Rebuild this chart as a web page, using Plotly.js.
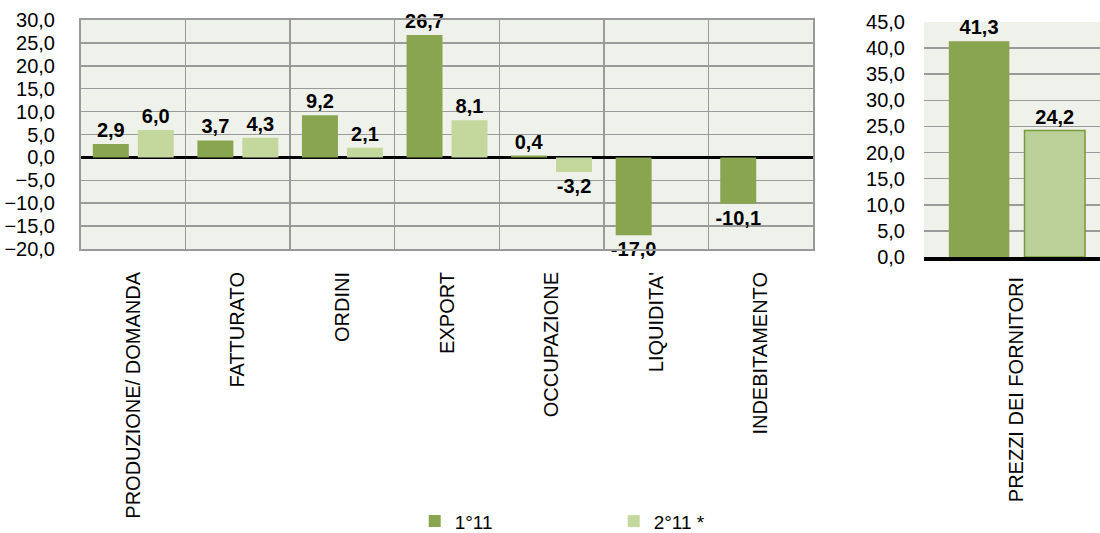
<!DOCTYPE html>
<html>
<head>
<meta charset="utf-8">
<script src="https://cdn.plot.ly/plotly-3.0.1.min.js"></script>
<style>
html,body{margin:0;padding:0;background:#fff;}
#chart{width:1100px;height:533px;}
</style>
</head>
<body>
<div id="chart"></div>
<script>
// ---- data ----
var categories = ["PRODUZIONE/ DOMANDA", "FATTURATO", "ORDINI", "EXPORT", "OCCUPAZIONE", "LIQUIDITA'", "INDEBITAMENTO"];
var series1Name = "1°11";
var series2Name = "2°11 *";
var series1 = [2.9, 3.7, 9.2, 26.7, 0.4, -17.0, -10.1];
var series2 = [6.0, 4.3, 2.1, 8.1, -3.2, null, null];
var priceCategory = ["PREZZI DEI FORNITORI"];
var price1 = [41.3];
var price2 = [24.2];

// ---- styles ----
var FONT = "Liberation Sans, Arial, sans-serif";
var DARK = "#8AA54F";
var LIGHT = "#C4D79C";
var LIGHT2 = "#BBD098";
var GRID = "#9A9A9A";
var labelFont = {family: FONT, size: 20, color: "#000", weight: "bold"};

var traces = [
  {type: "bar", name: series1Name, x: categories, y: series1, xaxis: "x", yaxis: "y",
   marker: {color: DARK}, legendgroup: "a",
   texttemplate: "%{y:.1f}", textposition: "outside", textfont: labelFont, cliponaxis: false,
   constraintext: "none", hoverinfo: "x+y"},
  {type: "bar", name: series2Name, x: categories, y: series2, xaxis: "x", yaxis: "y",
   marker: {color: LIGHT}, legendgroup: "b",
   texttemplate: "%{y:.1f}", textposition: "outside", textfont: labelFont, cliponaxis: false,
   constraintext: "none", hoverinfo: "x+y"},
  {type: "bar", name: series1Name, x: priceCategory, y: price1, xaxis: "x2", yaxis: "y2",
   marker: {color: DARK}, legendgroup: "a", showlegend: false,
   texttemplate: "%{y:.1f}", textposition: "outside", textfont: labelFont, cliponaxis: false,
   constraintext: "none"},
  {type: "bar", name: series2Name, x: priceCategory, y: price2, xaxis: "x2", yaxis: "y2",
   marker: {color: LIGHT2, line: {color: "#789A3E", width: 1.5}}, legendgroup: "b", showlegend: false,
   texttemplate: "%{y:.1f}", textposition: "outside", textfont: labelFont, cliponaxis: false,
   constraintext: "none"}
];

var tickFont = {family: FONT, size: 20, color: "#000"};

var layout = {
  width: 1100, height: 533,
  margin: {l: 0, r: 0, t: 0, b: 0, autoexpand: false},
  paper_bgcolor: "#FFFFFF",
  plot_bgcolor: "#EFF2EA",
  separators: ",.",
  barmode: "group",
  bargap: 0.14,
  bargroupgap: 0.2,
  font: {family: FONT, color: "#000"},
  showlegend: true,
  legend: {orientation: "h", x: 0.377, xanchor: "left", y: 0.022, yanchor: "middle",
           font: {family: FONT, size: 19, color: "#000"}, entrywidth: 154, bgcolor: "rgba(0,0,0,0)"},
  xaxis: {domain: [81/1100, 813/1100], type: "category", anchor: "y",
          tickangle: -90, tickson: "boundaries", ticks: "",
          showgrid: true, gridcolor: GRID, gridwidth: 1.5,
          showline: true, mirror: true, linecolor: GRID, linewidth: 2,
          ticklabelstandoff: 13, tickfont: tickFont, automargin: false, fixedrange: true},
  yaxis: {domain: [(533-249)/533, (533-20)/533], anchor: "x",
          range: [-20, 30], dtick: 5, tick0: 0, tickformat: ".1f",
          showgrid: true, gridcolor: GRID, gridwidth: 1.5,
          zeroline: true, zerolinecolor: "#000", zerolinewidth: 3.5,
          showline: true, mirror: true, linecolor: GRID, linewidth: 2,
          ticks: "", ticklabelstandoff: 20, tickfont: tickFont, automargin: false, fixedrange: true},
  xaxis2: {domain: [924/1100, 1], type: "category", anchor: "y2",
           range: [-0.528, 0.472],
           tickangle: -90, ticks: "", showgrid: false,
           showline: true, linecolor: "#000", linewidth: 4,
           ticklabelstandoff: 8, tickfont: tickFont, automargin: false, fixedrange: true},
  yaxis2: {domain: [(533-257)/533, (533-22)/533], anchor: "x2",
           range: [0, 45], dtick: 5, tick0: 0, tickformat: ".1f",
           showgrid: true, gridcolor: GRID, gridwidth: 1.5,
           zeroline: false, showline: false,
           ticks: "", ticklabelstandoff: 18, tickfont: tickFont, automargin: false, fixedrange: true}
};

Plotly.newPlot("chart", traces, layout, {displayModeBar: false, staticPlot: true});
</script>
</body>
</html>
